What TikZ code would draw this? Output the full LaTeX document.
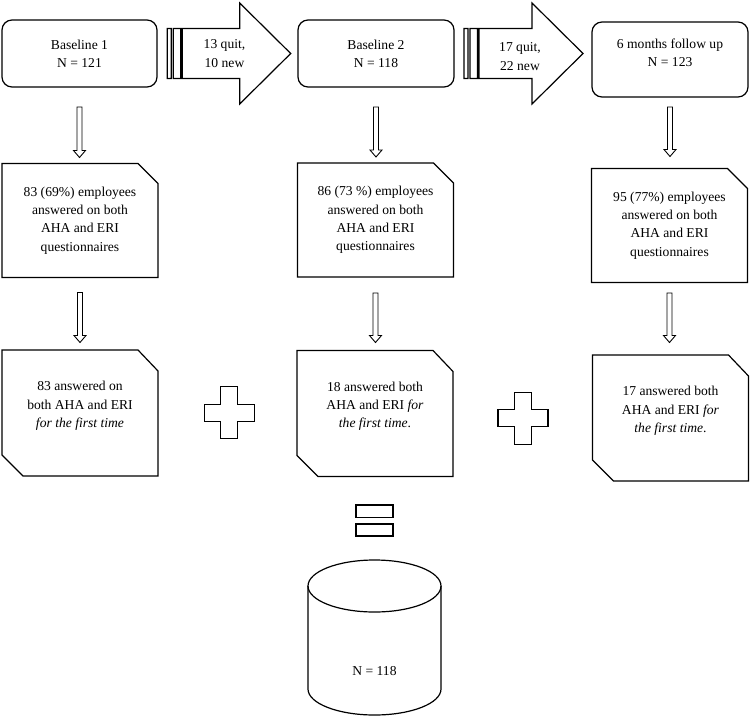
\documentclass[tikz,border=0pt]{standalone}
\usepackage{fontspec}
\setmainfont{Liberation Serif}
\usetikzlibrary{calc}

\begin{document}
\begin{tikzpicture}[x=1pt, y=-1pt, line width=1.2pt, outer sep=0pt,
    every node/.style={font=\fontsize{13.6}{18.3}\selectfont, align=center},
    stage/.style={draw, rounded corners=10pt, minimum width=156pt, minimum height=67pt},
    answer/.style={minimum width=156pt, minimum height=114pt},
    first/.style={minimum width=156pt, minimum height=126pt},
    dnarrow/.style={line width=0.9pt, to path={let \p1=(\tikztostart), \p2=(\tikztotarget) in
      (\x1-2.5pt,\y1) -- (\x1+2.5pt,\y1) -- (\x1+2.5pt,\y2+7pt) -- (\x1+6pt,\y2+7pt)
      -- (\x1,\y2) -- (\x1-6pt,\y2+7pt) -- (\x1-2.5pt,\y2+7pt) -- cycle}},
    bigarrow/.style={to path={let \p1=(\tikztostart), \p2=(\tikztotarget) in
      (\x1-15pt,\y1-25pt) rectangle (\x1-11pt,\y1+25pt)
      (\x1-9pt,\y1-25pt) rectangle (\x1-1.6pt,\y1+25pt)
      (\x1,\y1+25pt) -- (\x2-51pt,\y1+25pt) -- (\x2-51pt,\y1+50.5pt) -- (\x2,\y1)
      -- (\x2-51pt,\y1-50.5pt) -- (\x2-51pt,\y1-25pt) -- (\x1,\y1-25pt) -- cycle}}]

  \useasboundingbox (0,0) rectangle (750,718);

  \node[stage, minimum width=155pt] (BL1) at (79.5,53.5) {Baseline 1\\N = 121};
  \node[stage] (BL2) at (376,53.5) {Baseline 2\\N = 118};
  \node[stage, minimum height=75pt] (FU) at (670,59.5) {6 months follow up\\N = 123\\[-5pt]\mbox{}};

  \node[answer] (BothA) at (80,220.5) {83 (69\%) employees\\answered on both\\AHA and ERI\\questionnaires};
  \node[answer] (BothB) at (375.5,220) {86 (73 \%) employees\\answered on both\\AHA and ERI\\questionnaires};
  \node[answer] (BothC) at (669.5,225.5) {95 (77\%) employees\\answered on both\\AHA and ERI\\questionnaires};

  \node[first] (FirstA) at (80,413) {83 answered on\\both AHA and ERI\\\textit{for the first time}\\[-1pt]\mbox{}};
  \node[first] (FirstB) at (375,413.5) {18 answered both\\AHA and ERI \textit{for}\\\textit{the first time}.\\[-1pt]\mbox{}};
  \node[first] (FirstC) at (670.5,418) {17 answered both\\AHA and ERI \textit{for}\\\textit{the first time}.\\[-1pt]\mbox{}};

  \node (Churn1) [xshift=-3pt] at ($(BL1.east)!0.5!(BL2.west)$) {13 quit,\\[1.5pt]10 new};
  \node (Churn2) [xshift=-3pt] at ($(BL2.east)!0.5!(FU.west)$) {17 quit,\\[1.5pt]22 new};

  \node (Pool) at (374.5,671) {N = 118};

  \foreach \n in {BothA,BothB,BothC}
    \draw (\n.north west) -- ([xshift=-20pt]\n.north east) -- ([yshift=-20pt]\n.north east)
      -- (\n.south east) -- (\n.south west) -- cycle;
  \foreach \n in {FirstA,FirstB,FirstC}
    \draw (\n.north west) -- ([xshift=-20pt]\n.north east) -- ([yshift=-21pt]\n.north east)
      -- (\n.south east) -- ([xshift=21pt]\n.south west) -- ([yshift=21pt]\n.south west) -- cycle;

  \draw[bigarrow] ([xshift=25.3pt]BL1.east) to ([xshift=-7.3pt]BL2.west);
  \draw[bigarrow] ([xshift=25pt]BL2.east) to ([xshift=-9pt]FU.west);

  \draw[dnarrow] ([yshift=-20pt]BL1.south) to ([yshift=6pt]BothA.north);
  \draw[dnarrow] ([yshift=-20pt]BL2.south) to ([yshift=6pt]BothB.north);
  \draw[dnarrow] ([yshift=-10pt]FU.south) to ([yshift=12pt]BothC.north);
  \draw[dnarrow] ([yshift=-15pt]BothA.south) to ([yshift=7.5pt]FirstA.north);
  \draw[dnarrow] ([yshift=-16pt]BothB.south) to ([yshift=8pt]FirstB.north);
  \draw[dnarrow] ([yshift=-10.5pt]BothC.south) to ([yshift=12.5pt]FirstC.north);

  \foreach \px/\py in {229.3/412.6, 523/418.3}
    \draw[shift={(\px,\py)}] (-8.5,-26) -- (8.5,-26) -- (8.5,-8.5) -- (25,-8.5) -- (25,8.5)
      -- (8.5,8.5) -- (8.5,26) -- (-8.5,26) -- (-8.5,8.5) -- (-25,8.5) -- (-25,-8.5)
      -- (-8.5,-8.5) -- cycle;

  \draw (356,505) rectangle (393,517.7);
  \draw (356,524) rectangle (393,536);

  \draw (308,586) -- (308,689) arc (180:360:66.5pt and 26pt) -- (441,586);
  \draw (374.5,586) ellipse (66.5pt and 26pt);
\end{tikzpicture}
\end{document}
